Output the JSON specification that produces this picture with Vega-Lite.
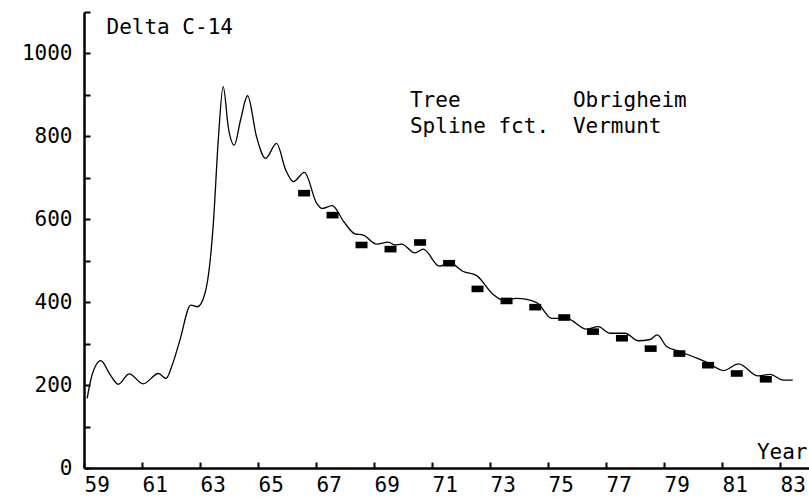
{
  "$schema": "https://vega.github.io/schema/vega-lite/v6.json",
  "width": 725,
  "height": 456,
  "autosize": {"type": "none"},
  "padding": {"left": 84, "top": 12, "right": 0, "bottom": 29},
  "background": "white",
  "config": {
    "view": {"stroke": null},
    "font": "DejaVu Sans Mono",
    "axis": {
      "grid": false,
      "domainColor": "black",
      "domainWidth": 2.5,
      "tickColor": "black",
      "tickWidth": 2,
      "labelColor": "black",
      "titleColor": "black",
      "labelFont": "DejaVu Sans Mono",
      "titleFont": "DejaVu Sans Mono",
      "titleFontWeight": "normal",
      "labelFontSize": 21,
      "titleFontSize": 21
    }
  },
  "datasets": {
    "spline": [
      {"year": 1959.11, "delta": 168},
      {"year": 1959.26, "delta": 220},
      {"year": 1959.58, "delta": 259},
      {"year": 1959.9, "delta": 225},
      {"year": 1960.18, "delta": 202},
      {"year": 1960.56, "delta": 227},
      {"year": 1961.04, "delta": 203},
      {"year": 1961.57, "delta": 228},
      {"year": 1961.83, "delta": 216},
      {"year": 1962.05, "delta": 250},
      {"year": 1962.31, "delta": 309},
      {"year": 1962.68, "delta": 393},
      {"year": 1962.91, "delta": 389},
      {"year": 1963.17, "delta": 421},
      {"year": 1963.35, "delta": 500},
      {"year": 1963.46, "delta": 590},
      {"year": 1963.63, "delta": 791},
      {"year": 1963.8, "delta": 920},
      {"year": 1963.98, "delta": 820},
      {"year": 1964.18, "delta": 779},
      {"year": 1964.4, "delta": 840},
      {"year": 1964.64, "delta": 898},
      {"year": 1964.95, "delta": 799},
      {"year": 1965.26, "delta": 747},
      {"year": 1965.64, "delta": 783},
      {"year": 1965.95, "delta": 720},
      {"year": 1966.22, "delta": 691},
      {"year": 1966.6, "delta": 713},
      {"year": 1967.02, "delta": 639},
      {"year": 1967.2, "delta": 626},
      {"year": 1967.56, "delta": 633},
      {"year": 1967.95, "delta": 595},
      {"year": 1968.34, "delta": 565},
      {"year": 1968.63, "delta": 562},
      {"year": 1969.09, "delta": 540},
      {"year": 1969.49, "delta": 545},
      {"year": 1969.72, "delta": 538},
      {"year": 1969.95, "delta": 540},
      {"year": 1970.41, "delta": 519},
      {"year": 1970.7, "delta": 528},
      {"year": 1971.25, "delta": 487},
      {"year": 1971.62, "delta": 494},
      {"year": 1972.08, "delta": 474},
      {"year": 1972.54, "delta": 464},
      {"year": 1973.09, "delta": 420},
      {"year": 1973.46, "delta": 405},
      {"year": 1973.92, "delta": 409},
      {"year": 1974.61, "delta": 399},
      {"year": 1975.13, "delta": 361},
      {"year": 1975.64, "delta": 361},
      {"year": 1976.33, "delta": 335},
      {"year": 1976.73, "delta": 341},
      {"year": 1977.14, "delta": 325},
      {"year": 1977.66, "delta": 325},
      {"year": 1978.11, "delta": 307},
      {"year": 1978.52, "delta": 310},
      {"year": 1978.77, "delta": 321},
      {"year": 1979.09, "delta": 293},
      {"year": 1979.55, "delta": 281},
      {"year": 1980.13, "delta": 265},
      {"year": 1980.53, "delta": 253},
      {"year": 1981.05, "delta": 235},
      {"year": 1981.57, "delta": 251},
      {"year": 1982.25, "delta": 222},
      {"year": 1982.66, "delta": 226},
      {"year": 1983.11, "delta": 212},
      {"year": 1983.44, "delta": 212}
    ],
    "tree": [
      {"year": 1966.59, "delta": 663},
      {"year": 1967.57, "delta": 610},
      {"year": 1968.57, "delta": 538},
      {"year": 1969.57, "delta": 528},
      {"year": 1970.59, "delta": 544},
      {"year": 1971.59, "delta": 494},
      {"year": 1972.57, "delta": 432},
      {"year": 1973.57, "delta": 403},
      {"year": 1974.56, "delta": 388},
      {"year": 1975.56, "delta": 363},
      {"year": 1976.55, "delta": 329},
      {"year": 1977.55, "delta": 313},
      {"year": 1978.54, "delta": 288},
      {"year": 1979.53, "delta": 276},
      {"year": 1980.52, "delta": 248},
      {"year": 1981.51, "delta": 228},
      {"year": 1982.51, "delta": 214}
    ],
    "one": [{}]
  },
  "layer": [
    {
      "data": {"name": "spline"},
      "mark": {"type": "line", "color": "black", "strokeWidth": 1.3, "interpolate": "monotone"},
      "encoding": {
        "x": {
          "field": "year", "type": "quantitative",
          "scale": {"domain": [1959, 1984], "nice": false, "zero": false},
          "axis": {
            "values": [1959,1960,1961,1962,1963,1964,1965,1966,1967,1968,1969,1970,1971,1972,1973,1974,1975,1976,1977,1978,1979,1980,1981,1982,1983,1984],
            "labelExpr": "datum.value % 2 == 1 ? substring(toString(datum.value), 2) : ''",
            "labelAlign": "left",
            "labelBaseline": "top",
            "labelPadding": 12,
            "labelFlush": false,
            "labelOverlap": false,
            "tickSize": -6,
            "title": "Year",
            "titleAngle": 0,
            "titleAlign": "right",
            "titleBaseline": "alphabetic",
            "titleX": 723,
            "titleY": -10
          }
        },
        "y": {
          "field": "delta", "type": "quantitative",
          "scale": {"domain": [0, 1100], "nice": false},
          "axis": {
            "values": [0,100,200,300,400,500,600,700,800,900,1000,1100],
            "labelExpr": "datum.value % 200 == 0 && datum.value <= 1000 ? datum.label : ''",
            "format": "d",
            "labelPadding": 18,
            "labelOverlap": false,
            "labelFlush": false,
            "tickSize": -6,
            "title": "Delta C-14",
            "titleAngle": 0,
            "titleAlign": "left",
            "titleBaseline": "alphabetic",
            "titleX": 22,
            "titleY": 21
          }
        }
      }
    },
    {
      "data": {"name": "tree"},
      "mark": {"type": "point", "shape": "M-1,-0.55H1V0.55H-1Z", "filled": true, "color": "black", "size": 144, "opacity": 1},
      "encoding": {
        "x": {"field": "year", "type": "quantitative"},
        "y": {"field": "delta", "type": "quantitative"}
      }
    },
    {
      "data": {"name": "one"},
      "mark": {"type": "text", "text": "Tree", "align": "left", "baseline": "alphabetic", "fontSize": 21, "font": "DejaVu Sans Mono", "color": "black"},
      "encoding": {"x": {"datum": 1970.24}, "y": {"datum": 871}}
    },
    {
      "data": {"name": "one"},
      "mark": {"type": "text", "text": "Spline fct.", "align": "left", "baseline": "alphabetic", "fontSize": 21, "font": "DejaVu Sans Mono", "color": "black"},
      "encoding": {"x": {"datum": 1970.24}, "y": {"datum": 808}}
    },
    {
      "data": {"name": "one"},
      "mark": {"type": "text", "text": "Obrigheim", "align": "left", "baseline": "alphabetic", "fontSize": 21, "font": "DejaVu Sans Mono", "color": "black"},
      "encoding": {"x": {"datum": 1975.86}, "y": {"datum": 871}}
    },
    {
      "data": {"name": "one"},
      "mark": {"type": "text", "text": "Vermunt", "align": "left", "baseline": "alphabetic", "fontSize": 21, "font": "DejaVu Sans Mono", "color": "black"},
      "encoding": {"x": {"datum": 1975.86}, "y": {"datum": 808}}
    }
  ]
}
